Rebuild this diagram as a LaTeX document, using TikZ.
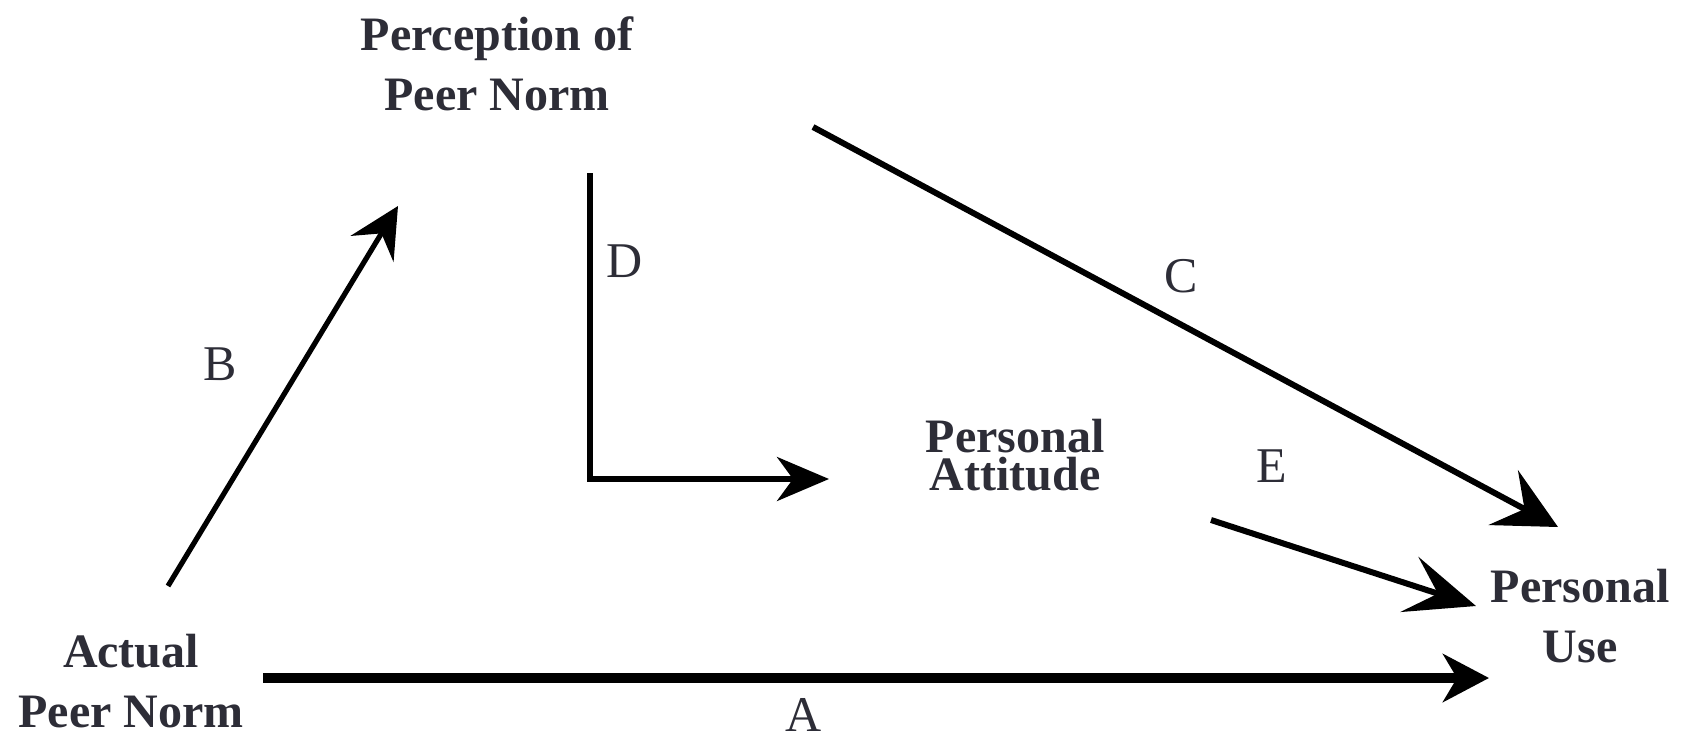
\documentclass[tikz,border=0pt]{standalone}
\usepackage{fontspec}
\setmainfont{Liberation Serif}
\usetikzlibrary{arrows.meta}
\definecolor{txt}{RGB}{45,45,55}
\tikzset{
  title/.style={font=\bfseries\fontsize{24}{30}\selectfont, text=txt, align=center, inner sep=0pt},
  lbl/.style={font=\fontsize{25}{30}\selectfont, text=txt, inner sep=0pt, anchor=base},
  conn/.style={draw=black, line width=2.6pt},
}
\begin{document}
\begin{tikzpicture}[x=0.5pt,y=-0.5pt]
\useasboundingbox[fill=white] (0,0) rectangle (1688,735);
% nodes
\node[title] (perc) at (497,64) {Perception of\\Peer Norm};
\node[title] (actual) at (131,681) {Actual\\Peer Norm};
\node[title] (use) at (1580,616) {Personal\\Use};
\node[title, font=\bfseries\fontsize{24}{19}\selectfont] (att) at (1015,455) {Personal\\Attitude};
% labels
\node[lbl] (la) at (804,731) {A};
\node[lbl] (lb) at (220,380) {B};
\node[lbl] (lc) at (1181,292) {C};
\node[lbl] (ld) at (625,277) {D};
\node[lbl] (le) at (1272,482) {E};
% connector end points
\coordinate (As) at (263,678);
\coordinate (At) at (1489,678);
\coordinate (Bs) at (168,586);
\coordinate (Bt) at (398,206);
\coordinate (Cs) at (813,127);
\coordinate (Ct) at (1558,527);
\coordinate (Ds) at (590,173);
\coordinate (Dc) at (590,479);
\coordinate (Dt) at (829,479);
\coordinate (Es) at (1211,520);
\coordinate (Et) at (1476,606);
% connectors
\draw[conn, line width=5pt, -{Stealth[length=23pt,width=24pt,inset=7pt]}] (As) -- (At);
\draw[conn, -{Stealth[length=25pt,width=25pt,inset=9pt]}] (Bs) -- (Bt);
\draw[conn, line width=3pt, -{Stealth[length=31pt,width=31pt,inset=12pt]}] (Cs) -- (Ct);
\draw[conn, -{Stealth[length=26pt,width=22pt,inset=8pt]}] (Ds) -- (Dc) -- (Dt);
\draw[conn, line width=3pt, -{Stealth[length=35pt,width=29pt,inset=15pt]}] (Es) -- (Et);
\end{tikzpicture}
\end{document}
